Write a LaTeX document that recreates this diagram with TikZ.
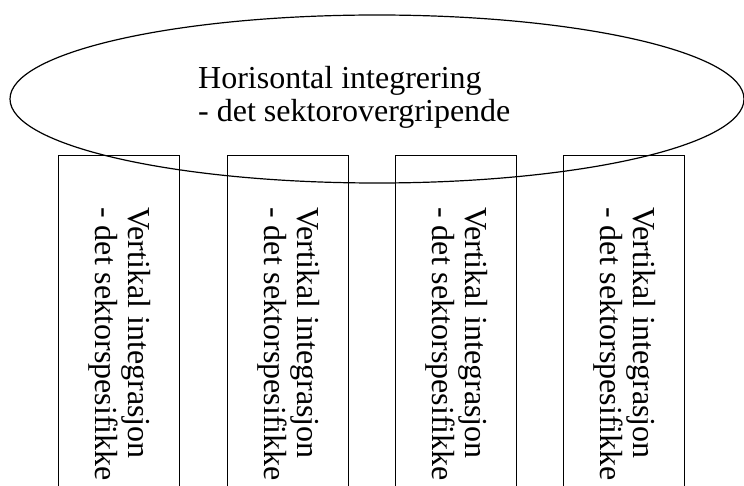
\documentclass[tikz,border=0pt]{standalone}
\usepackage{fontspec}
\setmainfont{Liberation Serif}
\usetikzlibrary{shapes.geometric}
\begin{document}
\begin{tikzpicture}[x=1pt,y=1pt,
  colbox/.style={draw, line width=1.2pt, minimum width=121pt, minimum height=350pt, anchor=north west, inner sep=0pt},
  vtext/.style={rotate=-90, anchor=north west, align=left, inner sep=0pt, font=\fontsize{32}{33}\selectfont},
  htext/.style={anchor=north west, align=left, inner sep=0pt, font=\fontsize{32}{33}\selectfont},
  oval/.style={draw, ellipse, line width=1.2pt, minimum width=734pt, minimum height=168pt, inner sep=0pt}]
\useasboundingbox (0,0) rectangle (744,-486);
\clip (0,0) rectangle (744,-486);
\node[oval] (horiz) at (377,-99) {};
\node[htext] (htxt) at (198,-66) {Horisontal integrering\\- det sektorovergripende};
\foreach \i/\xl in {1/58,2/227,3/395,4/563}{
  \node[colbox] (col\i) at (\xl,-155) {};
  \node[vtext] (vtxt\i) at (\xl+93,-207) {Vertikal integrasjon\\- det sektorspesifikke};
}
\end{tikzpicture}
\end{document}
